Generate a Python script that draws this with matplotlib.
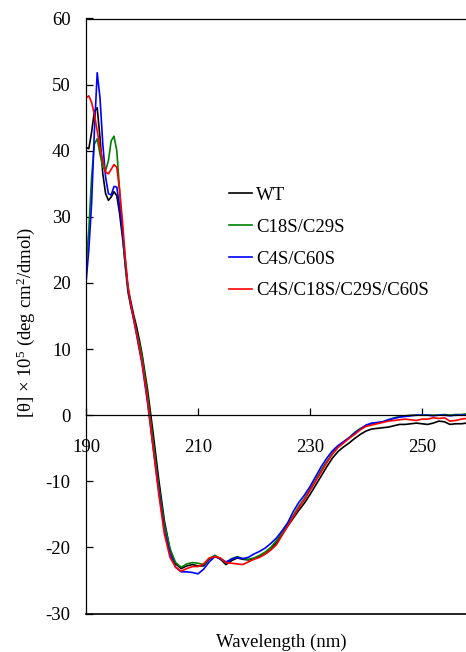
import matplotlib
matplotlib.use("Agg")
import matplotlib.pyplot as plt

plt.rcParams['font.family'] = ['Liberation Serif', 'DejaVu Serif']
plt.rcParams['mathtext.fontset'] = 'custom'
plt.rcParams['mathtext.rm'] = 'Liberation Serif'
plt.rcParams['mathtext.it'] = 'Liberation Serif:italic'
plt.rcParams['axes.unicode_minus'] = False

wavelength = [190, 190.5, 191, 191.5, 192, 192.5, 193, 193.5, 194, 194.5,
              195, 195.5, 196, 196.5, 197, 197.5, 198, 198.5, 199, 199.5,
              200, 201, 202, 203, 204, 205, 206, 207, 208, 209,
              210, 211, 212, 213, 214, 215, 216, 217, 218, 219,
              220, 221, 222, 223, 224, 225, 226, 227, 228, 229,
              230, 231, 232, 233, 234, 235, 236, 237, 238, 239,
              240, 241, 242, 243, 244, 245, 246, 247, 248, 249,
              250, 251, 252, 253, 254, 255, 256, 257, 258, 259, 260]

wt = [40.5, 40.3, 42.8, 46.0, 46.5, 42.0, 36.5, 33.5, 32.5, 33.0,
      33.8, 33.2, 30.5, 27.0, 23.0, 19.2, 17.2, 15.2, 13.5, 11.5,
      9.3, 3.8, -2.8, -9.8, -16.0, -20.3, -22.5, -23.2, -22.8, -22.6,
      -22.8, -22.8, -21.8, -21.3, -21.8, -22.6, -22.0, -21.6, -21.8, -21.9,
      -21.7, -21.4, -21.0, -20.3, -19.3, -18.0, -16.8, -15.6, -14.4, -13.3,
      -12.0, -10.6, -9.2, -7.8, -6.5, -5.5, -4.8, -4.2, -3.5, -2.9,
      -2.4, -2.1, -2.0, -1.9, -1.8, -1.6, -1.4, -1.4, -1.3, -1.2,
      -1.3, -1.4, -1.2, -0.9, -1.0, -1.4, -1.3, -1.3, -1.2, -1.2, -1.2]

c18s_c29s = [22.5, 28.0, 36.0, 41.0, 41.8, 39.5, 37.5, 37.0, 38.5, 41.5,
             42.2, 40.0, 34.0, 28.0, 22.5, 18.5, 16.5, 14.8, 12.8, 10.9,
             9.0, 3.0, -4.0, -10.8, -16.5, -20.2, -22.3, -23.0, -22.5, -22.3,
             -22.4, -22.6, -21.7, -21.2, -21.7, -22.3, -21.7, -21.4, -21.7, -21.8,
             -21.6, -21.2, -20.7, -20.0, -19.0, -17.8, -16.5, -15.2, -13.8, -12.6,
             -11.2, -9.8, -8.3, -7.0, -5.8, -4.8, -4.1, -3.4, -2.6, -2.0,
             -1.6, -1.3, -1.2, -1.0, -0.7, -0.4, -0.2, -0.1, 0.0, 0.0,
             0.0, 0.0, 0.0, 0.0, 0.1, 0.0, 0.1, 0.1, 0.2, 0.3, 0.3]

c4s_c60s = [20.0, 25.0, 32.0, 43.0, 51.8, 48.0, 41.0, 36.0, 33.5, 33.3,
            34.6, 34.5, 31.5, 28.0, 23.5, 19.0, 16.5, 14.5, 12.3, 10.0,
            7.8, 1.8, -5.0, -11.5, -17.5, -21.0, -23.0, -23.7, -23.7, -23.8,
            -24.0, -23.3, -22.2, -21.4, -21.7, -22.2, -21.8, -21.5, -21.7, -21.5,
            -21.0, -20.6, -20.1, -19.4, -18.6, -17.5, -16.3, -14.6, -13.2, -12.1,
            -10.8, -9.3, -7.8, -6.5, -5.4, -4.6, -4.0, -3.4, -2.7, -2.1,
            -1.5, -1.2, -1.1, -1.0, -0.7, -0.5, -0.3, -0.2, -0.1, 0.0,
            0.0, 0.0, -0.1, 0.0, 0.0, -0.1, 0.0, 0.0, 0.0, 0.0, 0.0]

c4s_c18s_c29s_c60s = [48.0, 48.3, 47.3, 45.5, 43.0, 40.5, 38.5, 36.8, 36.5, 37.2,
                      37.9, 37.5, 34.0, 29.5, 24.0, 19.5, 16.8, 14.6, 12.5, 10.3,
                      8.1, 2.2, -5.0, -12.0, -18.0, -21.5, -23.0, -23.6, -23.2, -22.9,
                      -22.9, -22.5, -21.6, -21.4, -21.6, -22.3, -22.4, -22.5, -22.6, -22.2,
                      -21.8, -21.5, -21.0, -20.4, -19.6, -18.2, -16.8, -15.4, -14.0, -12.8,
                      -11.4, -10.0, -8.6, -7.2, -5.9, -4.9, -4.2, -3.5, -2.9, -2.2,
                      -1.7, -1.5, -1.3, -1.1, -0.9, -0.8, -0.7, -0.6, -0.7, -0.8,
                      -0.6, -0.6, -0.4, -0.5, -0.4, -0.9, -0.8, -0.6, -0.5, -0.5, -0.5]

series = [("WT", wt, "#000000"),
          ("C18S/C29S", c18s_c29s, "#008000"),
          ("C4S/C60S", c4s_c60s, "#0000FF"),
          ("C4S/C18S/C29S/C60S", c4s_c18s_c29s_c60s, "#FF0000")]

x_ticks = [190, 210, 230, 250]
y_ticks = [-30, -20, -10, 0, 10, 20, 30, 40, 50, 60]

W, H = 466, 652
fig = plt.figure(figsize=(W / 100, H / 100), dpi=100)
left, top, bottom, right = 86, 18.5, 613.5, 478
ax = fig.add_axes([left / W, 1 - bottom / H, (right - left) / W, (bottom - top) / H])

for name, vals, col in series:
    ax.plot(wavelength, vals, color=col, lw=1.2, label=name)

ax.set_xlim(190, 260)
ax.set_ylim(-30, 60)

fs = 13.5
ax.spines['bottom'].set_position(('data', 0))
ax.spines['bottom'].set_linewidth(0.9)
ax.spines['left'].set_linewidth(0.9)
ax.spines['top'].set_linewidth(0.9)
ax.axhline(-30, color='black', lw=1.2, clip_on=False)
ax.spines['right'].set_visible(False)

ax.set_xticks(x_ticks)
ax.set_yticks(y_ticks)
ax.tick_params(axis='x', direction='in', length=5, width=0.9, pad=17, labelsize=fs)
ax.tick_params(axis='y', direction='in', length=5, width=0.9, pad=11, labelsize=fs)

ax.set_ylabel(r"[θ] × 10$^5$ (deg cm$^2$/dmol)", fontsize=fs)
ax.yaxis.set_label_coords(-0.125, 0.49)
ax.set_xlabel("Wavelength (nm)", fontsize=fs)
ax.xaxis.set_label_coords(0.499, -0.034)
ax.xaxis.label.set_va('top')

ax.legend(loc='upper left', bbox_to_anchor=(0.365, 0.717), frameon=False,
          fontsize=fs, handlelength=1.2, handletextpad=0.25, labelspacing=0.78,
          borderpad=0, borderaxespad=0)

fig.savefig("out.png", dpi=100)
